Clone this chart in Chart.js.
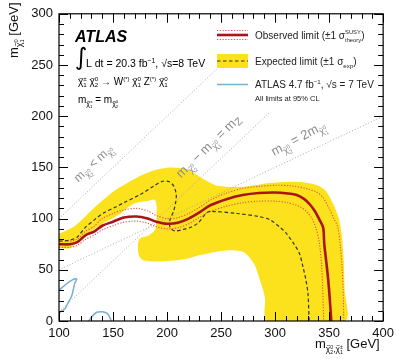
<!DOCTYPE html>
<html>
<head>
<meta charset="utf-8">
<script src="https://cdn.jsdelivr.net/npm/chart.js@4.4.1/dist/chart.umd.min.js"></script>
<style>
  html, body { margin: 0; padding: 0; background: #fff; }
  canvas { display: block; }
</style>
</head>
<body>
<canvas id="c" width="399" height="359"></canvas>
<script>
// axis ticks
const xTicks = [100, 150, 200, 250, 300, 350, 400];
const yTicks = [0, 50, 100, 150, 200, 250, 300];

// +-1 sigma expected band (outer edge, then inner edge back)
const yellowBand = [[100,85],[115,93],[133,111],[151,127],[172,140],[187.5,147],[203,150],[219,148],[233,139],[247,132],[270,131],[297,135],[320,136],[338,133],[347,127],[353.5,115],[359,100],[361.7,84],[363.5,59],[364.4,30],[365.3,0],
  [292.4,0],[290.6,23],[286,40],[280.5,56],[271.4,67],[256,69],[237.7,66],[228.6,64],[219.4,61],[205.8,59],[192,58],[178.4,59],[174,64],[173,74],[174.8,80.6],[183,83.5],[189.4,90],[190.3,113],[188.4,118.5],[183,117.5],[169,114.6],[155.6,104],[142,96],[128,86.4],[116.4,76.7],[110,71],[100,71]];

// observed limit and its theory +-1 sigma
const observed = [[100,75],[110,75],[117,77],[125,84],[132,87],[140,93],[150,97],[160,101],[172,102],[182,100],[190,97],[200,95],[210,96],[220,100],[230,106],[240,113],[255,119],[270,123],[285,125],[300,125.5],[312,124.5],[320,123],[327,119],[332,114],[337,107],[341,99],[344.5,91],[345.5,75],[348,52],[350,30],[352,0]];
const theoryUp = [[100,78],[110,78],[117,80],[125,88],[132,92],[140,100],[150,105],[160,108.5],[172,110],[182,107.5],[190,103],[200,100],[210,101],[220,105],[230,111],[240,118],[255,125],[270,129.5],[285,131.5],[300,132.5],[315,132],[330,129],[338,126],[344,121],[350,110],[354,101],[358,91.5],[360.5,72],[362,52],[363,30],[363.5,0]];
const theoryDown = [[100,72],[110,72],[117,74],[125,80],[132,83.5],[140,89],[150,93],[160,96.5],[172,97.5],[182,95.5],[190,92],[200,90],[210,91],[220,95],[230,101],[240,107],[255,112],[270,115.5],[285,117],[300,117],[312,115.5],[322,112],[329,107],[334,100],[338,90],[341,76],[343,55],[344,33],[345,0]];

// expected limit
const expected = [[100,78],[110,79],[117,82],[124,91],[133,99],[142,106],[152,111],[160,115.5],[176,124],[188,132],[196,136.5],[202,136],[206,132],[208.5,124],[208,116],[206,107],[202.5,98],[203,91],[207.5,88],[215,89.5],[222,91.5],[229,96],[236,105],[240,107],[265,105],[285,102],[295,99],[304,92],[310,86],[317,76],[322.5,66],[326,52],[328.5,40],[330.4,27],[331.5,0]];

// ATLAS 7 TeV result
const atlas7a = [[100,30],[105.5,35],[112,40],[116.4,41],[114.6,37],[111.9,25],[108,17],[105.5,12],[101,8.7],[100,8]];
const atlas7b = [[127.5,0],[131,5],[135,8.5],[140,9],[145,7],[148.5,0]];

// kinematic lines
const diagEq = [[100,100],[250,250]];
const diagMz = [[100,8.8],[295,203.8]];
const diagHalf = [[100,50],[400,200]];

const FONT = '"Liberation Sans", Arial, Helvetica, sans-serif';
const pts = (a) => a.map((p) => ({ x: p[0], y: p[1] }));

function chi(s, dy, sup, sub) {
  return [
    { t: 'χ', s: s, dy: dy, tilde: true },
    { t: sup, s: s * 0.62, dy: dy - s * 0.4 },
    { t: sub, s: s * 0.62, dy: dy + s * 0.22, stack: true },
  ];
}

// draws text with sub/superscripts, returns width
function rich(ctx, x, y, size, parts, dry) {
  let cx = x;
  let lastX = x;
  for (const p of parts) {
    const fs = size * (p.s || 1);
    ctx.font = (p.st || '') + ' ' + fs + 'px ' + FONT;
    const px = p.stack ? lastX : cx;
    const py = y + (p.dy || 0) * size;
    const w = ctx.measureText(p.t).width;
    if (!dry) ctx.fillText(p.t, px, py);
    if (p.tilde && !dry) {
      ctx.font = fs * 0.75 + 'px ' + FONT;
      const tw = ctx.measureText('~').width;
      ctx.fillText('~', px + (w - tw) / 2 + fs * 0.05, py - fs * 0.45);
    }
    if (p.stack) cx = Math.max(cx, px + w);
    else {
      lastX = px;
      cx = px + w;
    }
  }
  return cx - x;
}

function richRotated(ctx, cx, cy, angle, size, parts) {
  ctx.save();
  ctx.translate(cx, cy);
  ctx.rotate(angle);
  const w = rich(ctx, 0, 0, size, parts, true);
  rich(ctx, -w / 2, size * 0.35, size, parts);
  ctx.restore();
}

function lineSet(data, color, width, dash, order) {
  return {
    data: pts(data),
    showLine: true,
    borderColor: color,
    borderWidth: width,
    borderDash: dash,
    pointRadius: 0,
    tension: 0.3,
    fill: false,
    order: order,
  };
}

const decor = {
  id: 'decor',
  beforeDraw(chart) {
    const ctx = chart.ctx;
    ctx.save();
    ctx.fillStyle = '#fff';
    ctx.fillRect(0, 0, chart.width, chart.height);
    ctx.restore();
  },
  afterDraw(chart) {
    const { ctx, chartArea: a, scales } = chart;
    const sx = scales.x;
    const sy = scales.y;
    ctx.save();
    ctx.strokeStyle = '#000';
    ctx.lineWidth = 1;
    ctx.beginPath();
    for (let v = 100; v <= 400; v += 10) {
      const p = Math.round(sx.getPixelForValue(v)) + 0.5;
      const len = xTicks.includes(v) ? 9 : 5;
      ctx.moveTo(p, a.bottom); ctx.lineTo(p, a.bottom - len);
      ctx.moveTo(p, a.top); ctx.lineTo(p, a.top + len);
    }
    for (let v = 0; v <= 300; v += 10) {
      const p = Math.round(sy.getPixelForValue(v)) + 0.5;
      const len = yTicks.includes(v) ? 9 : 5;
      ctx.moveTo(a.left, p); ctx.lineTo(a.left + len, p);
      ctx.moveTo(a.right, p); ctx.lineTo(a.right - len, p);
    }
    ctx.stroke();
    ctx.lineWidth = 1.2;
    ctx.strokeRect(a.left, a.top, a.right - a.left, a.bottom - a.top);

    ctx.textAlign = 'left';
    ctx.textBaseline = 'alphabetic';
    ctx.fillStyle = '#111';

    // axis titles
    rich(ctx, 315, 348, 13, [{ t: 'm' }, ...chi(0.65, 0.3, '0', '2'), { t: ',', s: 0.65, dy: 0.3 }, ...chi(0.65, 0.3, '±', '1'), { t: ' [GeV]' }]);
    ctx.save();
    ctx.translate(18, 58);
    ctx.rotate(-Math.PI / 2);
    rich(ctx, 0, 0, 13, [{ t: 'm' }, ...chi(0.7, 0.3, '0', '1'), { t: ' [GeV]' }]);
    ctx.restore();

    // ATLAS block
    ctx.fillStyle = '#000';
    ctx.font = 'italic bold 16px ' + FONT;
    ctx.fillText('ATLAS', 75, 42);
    ctx.font = '24px "DejaVu Sans", sans-serif';
    ctx.fillText('∫', 75, 65);
    rich(ctx, 86, 67, 10.5, [{ t: 'L dt = 20.3 fb' }, { t: '−1', s: 0.65, dy: -0.4 }, { t: ', √s=8 TeV' }]);
    rich(ctx, 78, 85, 10, [...chi(1, 0, '±', '1'), { t: ' ' }, ...chi(1, 0, '0', '2'), { t: ' → W' }, { t: '(*)', s: 0.6, dy: -0.4 },
      { t: ' ' }, ...chi(1, 0, '0', '1'), { t: ' Z' }, { t: '(*)', s: 0.6, dy: -0.4 }, { t: ' ' }, ...chi(1, 0, '0', '1')]);
    rich(ctx, 78, 103, 10, [{ t: 'm' }, ...chi(0.7, 0.3, '±', '1'), { t: ' = m' }, ...chi(0.7, 0.3, '0', '2')]);

    // labels along kinematic lines
    ctx.fillStyle = '#8c8c8c';
    richRotated(ctx, 93, 163, -0.75, 12, [{ t: 'm' }, ...chi(0.7, 0.3, '0', '2'), { t: ' < m' }, ...chi(0.7, 0.3, '0', '1')]);
    richRotated(ctx, 208, 146, -0.77, 13, [{ t: 'm' }, ...chi(0.7, 0.3, '0', '2'), { t: ' − m' }, ...chi(0.7, 0.3, '0', '1'), { t: ' = m' }, { t: 'Z', s: 0.8, dy: 0.2 }]);
    richRotated(ctx, 298, 138, -0.49, 13, [{ t: 'm' }, ...chi(0.7, 0.3, '0', '2'), { t: ' = 2m' }, ...chi(0.7, 0.3, '0', '1')]);

    // legend
    ctx.fillStyle = '#fff';
    ctx.fillRect(214, 26, 36, 16);
    ctx.lineWidth = 2.6;
    ctx.strokeStyle = '#a8141a';
    ctx.setLineDash([]);
    ctx.beginPath(); ctx.moveTo(217, 35); ctx.lineTo(248, 35); ctx.stroke();
    ctx.lineWidth = 1;
    ctx.strokeStyle = '#e5504a';
    ctx.setLineDash([1.2, 1.6]);
    ctx.beginPath();
    ctx.moveTo(217, 30.5); ctx.lineTo(248, 30.5);
    ctx.moveTo(217, 39.5); ctx.lineTo(248, 39.5);
    ctx.stroke();
    ctx.fillStyle = '#fce21c';
    ctx.fillRect(217, 54, 31, 14);
    ctx.strokeStyle = '#333';
    ctx.lineWidth = 1.2;
    ctx.setLineDash([3.5, 2.5]);
    ctx.beginPath(); ctx.moveTo(217, 61); ctx.lineTo(248, 61); ctx.stroke();
    ctx.setLineDash([]);
    ctx.strokeStyle = '#78aed0';
    ctx.lineWidth = 1.5;
    ctx.beginPath(); ctx.moveTo(217, 84.5); ctx.lineTo(248, 84.5); ctx.stroke();

    ctx.fillStyle = '#222';
    rich(ctx, 255, 38.5, 10, [{ t: 'Observed limit (±1 σ' }, { t: 'SUSY', s: 0.58, dy: -0.45 }, { t: 'theory', s: 0.58, dy: 0.3, stack: true }, { t: ')' }]);
    rich(ctx, 255, 65, 10, [{ t: 'Expected limit (±1 σ' }, { t: 'exp', s: 0.62, dy: 0.25 }, { t: ')' }]);
    rich(ctx, 255, 88, 10, [{ t: 'ATLAS 4.7 fb' }, { t: '−1', s: 0.62, dy: -0.4 }, { t: ', √s = 7 TeV' }]);
    rich(ctx, 255, 101, 7.5, [{ t: 'All limits at 95% CL' }]);
    ctx.restore();
  },
};

new Chart(document.getElementById('c'), {
  type: 'scatter',
  data: {
    datasets: [
      {
        data: pts(yellowBand),
        showLine: true,
        borderWidth: 0,
        borderColor: 'rgba(0,0,0,0)',
        backgroundColor: '#fce21c',
        pointRadius: 0,
        tension: 0.25,
        fill: 'shape',
        order: 10,
      },
      lineSet(diagEq, '#a0a0a0', 0.9, [1, 2], 9),
      lineSet(diagMz, '#a0a0a0', 0.9, [1, 2], 9),
      lineSet(diagHalf, '#a0a0a0', 0.9, [1, 2], 9),
      lineSet(atlas7a, '#78aed0', 1.5, [], 8),
      lineSet(atlas7b, '#78aed0', 1.5, [], 8),
      lineSet(expected, '#333333', 1.2, [3.5, 2.5], 7),
      lineSet(theoryUp, '#e5504a', 1.1, [1.2, 1.6], 6),
      lineSet(theoryDown, '#e5504a', 1.1, [1.2, 1.6], 6),
      lineSet(observed, '#a8141a', 2.6, [], 5),
    ],
  },
  options: {
    responsive: false,
    animation: false,
    devicePixelRatio: 1,
    layout: { padding: { left: 0, right: 11, top: 12, bottom: 0 } },
    plugins: { legend: { display: false }, tooltip: { enabled: false } },
    scales: {
      x: {
        type: 'linear',
        min: 100,
        max: 400,
        grid: { display: false, drawTicks: false },
        border: { display: false },
        ticks: { stepSize: 50, padding: 5, autoSkip: false, maxRotation: 0, color: '#111', font: { family: FONT, size: 13 } },
        afterFit: (s) => { s.height = 38; },
      },
      y: {
        min: 0,
        max: 300,
        grid: { display: false, drawTicks: false },
        border: { display: false },
        ticks: { stepSize: 50, padding: 6, color: '#111', font: { family: FONT, size: 13 } },
        afterFit: (s) => { s.width = 59; },
      },
    },
  },
  plugins: [decor],
});
</script>
</body>
</html>
